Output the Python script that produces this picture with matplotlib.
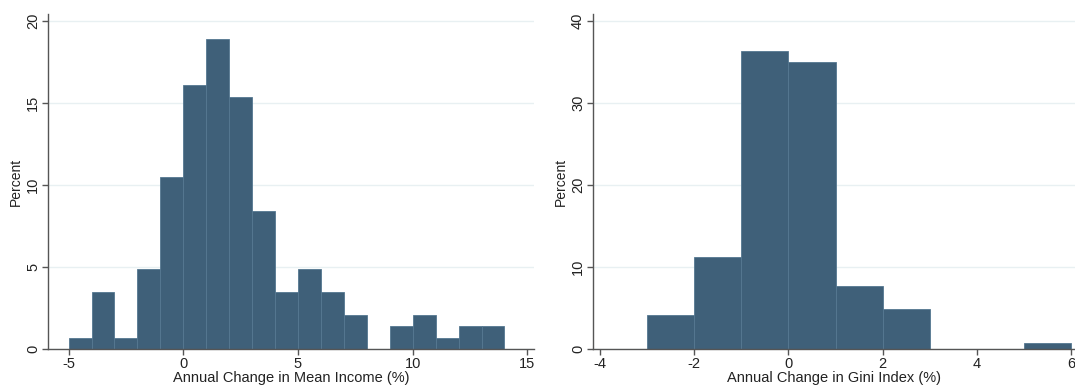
import matplotlib
matplotlib.use("Agg")
import matplotlib.pyplot as plt
import numpy as np

# === DATA ===
income_bin_left = [-5, -4, -3, -2, -1, 0, 1, 2, 3, 4, 5, 6, 7, 8, 9, 10, 11, 12, 13]
income_pct = [0.7, 3.5, 0.7, 4.9, 10.5, 16.1, 18.9, 15.4, 8.4, 3.5, 4.9, 3.5, 2.1, 0.0, 1.4, 2.1, 0.7, 1.4, 1.4]

gini_bin_left = [-3, -2, -1, 0, 1, 2, 3, 4, 5]
gini_pct = [4.2, 11.2, 36.4, 35.0, 7.7, 4.9, 0.0, 0.0, 0.7]

income_xticks = [-5, 0, 5, 10, 15]
income_yticks = [0, 5, 10, 15, 20]
gini_xticks = [-4, -2, 0, 2, 4, 6]
gini_yticks = [0, 10, 20, 30, 40]

# === STYLE ===
BAR_COLOR = "#3f6079"
EDGE_COLOR = "#557891"
GRID_COLOR = "#e8f0f2"
AXIS_COLOR = "#555555"
plt.rcParams['font.family'] = ['Liberation Sans', 'DejaVu Sans']
plt.rcParams['axes.unicode_minus'] = False

fig = plt.figure(figsize=(10.75, 3.87), dpi=100)
ax1 = fig.add_axes([0.045, 0.098, 0.452, 0.866])
ax2 = fig.add_axes([0.552, 0.098, 0.448, 0.866])


def style_axis(ax, xticks, yticks, xlim, ylim, xlabel):
    ax.set_xlim(*xlim)
    ax.set_ylim(*ylim)
    ax.set_xticks(xticks)
    ax.set_yticks(yticks)
    ax.set_yticklabels([str(t) for t in yticks], rotation=90, va="center")
    ax.yaxis.grid(True, color=GRID_COLOR, linewidth=1.0)
    ax.set_axisbelow(True)
    for s in ["top", "right"]:
        ax.spines[s].set_visible(False)
    for s in ["left", "bottom"]:
        ax.spines[s].set_color(AXIS_COLOR)
        ax.spines[s].set_linewidth(1.0)
    ax.tick_params(axis="both", colors=AXIS_COLOR, labelcolor="#222222",
                   labelsize=10.5, length=4, width=1.0, pad=2)
    ax.set_ylabel("Percent", fontsize=10, color="#222222", labelpad=2)
    ax.set_xlabel(xlabel, fontsize=10.5, color="#222222", labelpad=0)


ax1.bar(income_bin_left, income_pct, width=1, align="edge",
        color=BAR_COLOR, edgecolor=EDGE_COLOR, linewidth=0.6)
style_axis(ax1, income_xticks, income_yticks, (-5.88, 15.3), (0, 20.45),
           "Annual Change in Mean Income (%)")

ax2.bar(gini_bin_left, gini_pct, width=1, align="edge",
        color=BAR_COLOR, edgecolor=EDGE_COLOR, linewidth=0.6)
style_axis(ax2, gini_xticks, gini_yticks, (-4.14, 6.08), (0, 40.9),
           "Annual Change in Gini Index (%)")

fig.savefig("out.png", dpi=100)
